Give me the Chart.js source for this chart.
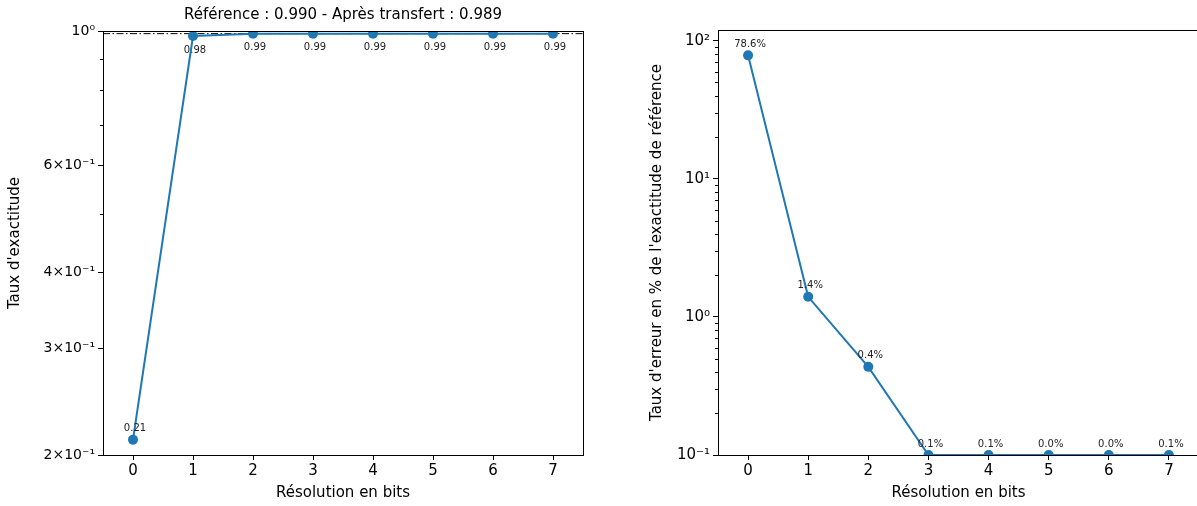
<!DOCTYPE html>
<html>
<head>
<meta charset="utf-8">
<script src="https://cdn.jsdelivr.net/npm/chart.js@4.4.0/dist/chart.umd.min.js"></script>
<style>
  html, body { margin: 0; padding: 0; background: #fff; overflow: hidden; }
  #wrap { position: relative; width: 1197px; height: 506px; overflow: hidden; }
  #c1 { position: absolute; left: 0; top: 0; }
  #c2 { position: absolute; left: 600px; top: 0; }
</style>
</head>
<body>
<div id="wrap">
  <canvas id="c1" width="600" height="506"></canvas>
  <canvas id="c2" width="620" height="506"></canvas>
</div>
<script>
// data
const bits = [0, 1, 2, 3, 4, 5, 6, 7]
const accuracy = [0.212, 0.981, 0.99, 0.99, 0.99, 0.99, 0.99, 0.99]
const accuracyLabels = ['0.21', '0.98', '0.99', '0.99', '0.99', '0.99', '0.99', '0.99']
const referenceAcc = 0.990
const transferAcc = 0.989
const errorPct = [78.6, 1.4, 0.435, 0.1, 0.1, 0.1, 0.1, 0.1]
const errorLabels = ['78.6%', '1.4%', '0.4%', '0.1%', '0.1%', '0.0%', '0.0%', '0.1%']

const leftTicks = [0.2, 0.3, 0.4, 0.6, 1]
const leftTickLabels = ['2×10⁻¹', '3×10⁻¹', '4×10⁻¹', '6×10⁻¹', '10⁰']
const leftMinor = [0.5, 0.7, 0.8, 0.9]
const rightTicks = [0.1, 1, 10, 100]
const rightTickLabels = ['10⁻¹', '10⁰', '10¹', '10²']
const rightMinor = [0.2, 0.3, 0.4, 0.5, 0.6, 0.7, 0.8, 0.9, 2, 3, 4, 5, 6, 7, 8, 9, 20, 30, 40, 50, 60, 70, 80, 90]

const blue = '#1f77b4'
Chart.defaults.font.family = 'DejaVu Sans'
Chart.defaults.font.size = 15
Chart.defaults.color = '#000'

// box, minor ticks, point labels and title (matplotlib look)
function makeFrame(minor, labels, title) {
  return {
    id: 'frame',
    afterDraw(chart) {
      const { ctx, chartArea: a, scales } = chart
      ctx.save()
      ctx.strokeStyle = '#000'
      ctx.lineWidth = 1
      ctx.strokeRect(Math.round(a.left) + 0.5, Math.round(a.top) + 0.5,
        Math.round(a.right - a.left), Math.round(a.bottom - a.top))
      ctx.beginPath()
      minor.forEach(v => {
        const y = Math.round(scales.y.getPixelForValue(v)) + 0.5
        ctx.moveTo(a.left, y)
        ctx.lineTo(a.left - 3, y)
      })
      ctx.stroke()

      ctx.fillStyle = '#222'
      ctx.font = '10px "DejaVu Sans"'
      ctx.textAlign = 'center'
      ctx.textBaseline = 'middle'
      const meta = chart.getDatasetMeta(0)
      meta.data.forEach((pt, i) => {
        const below = pt.y < a.top + 20
        ctx.fillText(labels[i], pt.x + 2, below ? pt.y + 14 : pt.y - 11)
      })

      if (title) {
        ctx.fillStyle = '#000'
        ctx.font = '15px "DejaVu Sans"'
        ctx.fillText(title, (a.left + a.right) / 2, 15)
      }
      ctx.restore()
    }
  }
}

function xAxis() {
  return {
    type: 'linear', min: -0.5, max: 7.5,
    afterBuildTicks: s => { s.ticks = bits.map(v => ({ value: v })) },
    afterFit: s => { s.height = 51 },
    grid: { drawOnChartArea: false, tickLength: 5, tickColor: '#000', tickWidth: 1 },
    border: { display: false },
    ticks: { padding: 2, maxRotation: 0, autoSkip: false },
    title: { display: true, text: 'Résolution en bits', padding: { top: 0, bottom: 4 } }
  }
}

new Chart(document.getElementById('c1'), {
  type: 'line',
  data: {
    datasets: [{
      data: bits.map((b, i) => ({ x: b, y: accuracy[i] })),
      borderColor: blue, backgroundColor: blue, borderWidth: 2,
      pointRadius: 5, pointBorderWidth: 0, clip: 0
    }, {
      data: [{ x: -0.5, y: referenceAcc }, { x: 7.5, y: referenceAcc }],
      borderColor: '#000', borderWidth: 1, borderDash: [7, 2.5, 1.5, 2.5],
      pointRadius: 0, clip: 0
    }]
  },
  options: {
    responsive: false,
    animation: false,
    layout: { padding: { top: 31, right: 17, left: 0, bottom: 0 } },
    plugins: { legend: { display: false }, tooltip: { enabled: false } },
    scales: {
      x: xAxis(),
      y: {
        type: 'logarithmic', min: 0.2, max: 1,
        afterBuildTicks: s => { s.ticks = leftTicks.map(v => ({ value: v })) },
        afterFit: s => { s.width = 103 },
        grid: { drawOnChartArea: false, tickLength: 5, tickColor: '#000', tickWidth: 1 },
        border: { display: false },
        ticks: { padding: 3, font: { size: 14 }, callback: v => leftTickLabels[leftTicks.indexOf(v)] },
        title: { display: true, text: "Taux d'exactitude", padding: { top: 6 } }
      }
    }
  },
  plugins: [makeFrame(leftMinor, accuracyLabels,
    'Référence : ' + referenceAcc.toFixed(3) + ' - Après transfert : ' + transferAcc.toFixed(3))]
})

new Chart(document.getElementById('c2'), {
  type: 'line',
  data: {
    datasets: [{
      data: bits.map((b, i) => ({ x: b, y: errorPct[i] })),
      borderColor: blue, backgroundColor: blue, borderWidth: 2,
      pointRadius: 5, pointBorderWidth: 0, clip: 0
    }]
  },
  options: {
    responsive: false,
    animation: false,
    layout: { padding: { top: 30, right: 21, left: 0, bottom: 0 } },
    plugins: { legend: { display: false }, tooltip: { enabled: false } },
    scales: {
      x: xAxis(),
      y: {
        type: 'logarithmic', min: 0.1, max: 120,
        afterBuildTicks: s => { s.ticks = rightTicks.map(v => ({ value: v })) },
        afterFit: s => { s.width = 118 },
        grid: { drawOnChartArea: false, tickLength: 5, tickColor: '#000', tickWidth: 1 },
        border: { display: false },
        ticks: { padding: 3, callback: v => rightTickLabels[rightTicks.indexOf(v)] },
        title: { display: true, text: "Taux d'erreur en % de l'exactitude de référence", padding: { top: 48 } }
      }
    }
  },
  plugins: [makeFrame(rightMinor, errorLabels, null)]
})
</script>
</body>
</html>
